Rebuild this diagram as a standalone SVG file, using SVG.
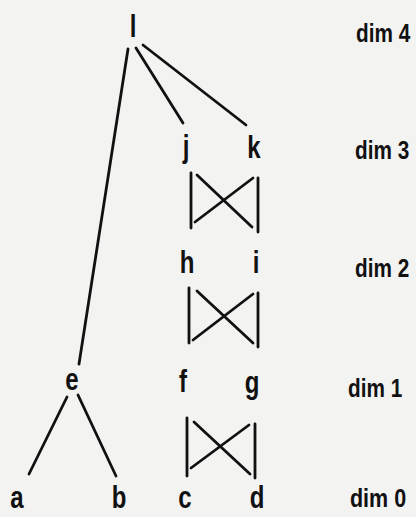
<svg xmlns="http://www.w3.org/2000/svg" width="416" height="517" viewBox="0 0 416 517">
<style>
.bg{fill:#f3f3f1}
.n{font-family:"Liberation Sans",Arial,sans-serif;font-weight:700;font-size:32px;fill:#111;text-anchor:middle}
.d{font-family:"Liberation Sans",Arial,sans-serif;font-weight:700;font-size:25px;fill:#111}
.c line{stroke:#111;stroke-width:2.8;stroke-linecap:round}
</style>
<rect class="bg" x="0" y="0" width="416" height="517"/>
<g id="connectors" class="c">
<line x1="128" y1="49" x2="79" y2="364"/>
<line x1="136" y1="48" x2="183" y2="123"/>
<line x1="143" y1="45" x2="246" y2="125"/>
<line x1="67" y1="397" x2="29" y2="474"/>
<line x1="78" y1="395" x2="116" y2="476"/>
<line x1="191" y1="173" x2="191" y2="228"/>
<line x1="258" y1="178" x2="258" y2="232"/>
<line x1="197" y1="175" x2="252" y2="227"/>
<line x1="253" y1="178" x2="195" y2="222"/>
<line x1="189" y1="288" x2="189" y2="343"/>
<line x1="258" y1="293" x2="258" y2="347"/>
<line x1="197" y1="291" x2="253" y2="343"/>
<line x1="253" y1="294" x2="193" y2="340"/>
<line x1="187" y1="418" x2="187" y2="476"/>
<line x1="255" y1="424" x2="255" y2="478"/>
<line x1="194" y1="422" x2="250" y2="474"/>
<line x1="249" y1="425" x2="191" y2="468"/>
</g>
<g id="node-l"><text class="n" transform="translate(133,37) scale(0.75,1)">l</text></g>
<g id="node-j"><text class="n" transform="translate(186,157) scale(0.75,1)">j</text></g>
<g id="node-k"><text class="n" transform="translate(254,158) scale(0.75,1)">k</text></g>
<g id="node-h"><text class="n" transform="translate(187,273) scale(0.75,1)">h</text></g>
<g id="node-i"><text class="n" transform="translate(256,273) scale(0.75,1)">i</text></g>
<g id="node-e"><text class="n" transform="translate(72,390) scale(0.75,1)">e</text></g>
<g id="node-f"><text class="n" transform="translate(183,392) scale(0.75,1)">f</text></g>
<g id="node-g"><text class="n" transform="translate(252,393) scale(0.75,1)">g</text></g>
<g id="node-a"><text class="n" transform="translate(17,508) scale(0.75,1)">a</text></g>
<g id="node-b"><text class="n" transform="translate(119,508) scale(0.75,1)">b</text></g>
<g id="node-c"><text class="n" transform="translate(185,508) scale(0.75,1)">c</text></g>
<g id="node-d"><text class="n" transform="translate(257,508) scale(0.75,1)">d</text></g>
<g id="labels">
<text class="d" transform="translate(356,42) scale(0.83,1)">dim 4</text>
<text class="d" transform="translate(355,159) scale(0.83,1)">dim 3</text>
<text class="d" transform="translate(355,277) scale(0.83,1)">dim 2</text>
<text class="d" transform="translate(348,397) scale(0.83,1)">dim 1</text>
<text class="d" transform="translate(350,507) scale(0.86,1)">dim 0</text>
</g>
</svg>
